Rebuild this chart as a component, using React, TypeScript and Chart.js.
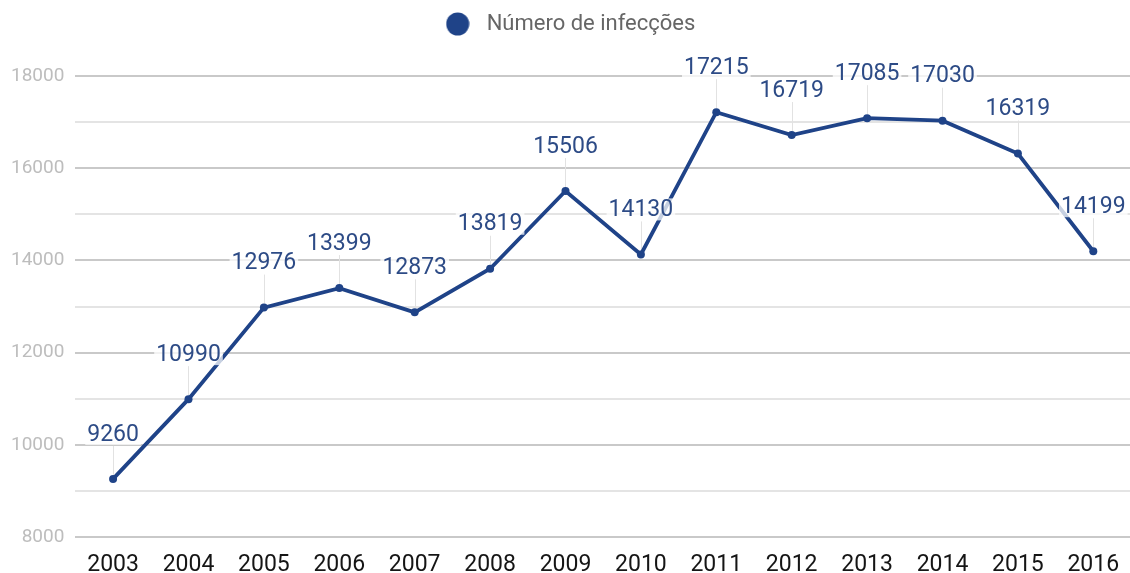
import React, { useEffect, useRef } from "react";
import { Chart, registerables } from "chart.js";

Chart.register(...registerables);

const years = ["2003", "2004", "2005", "2006", "2007", "2008", "2009", "2010", "2011", "2012", "2013", "2014", "2015", "2016"];
const infections = [9260, 10990, 12976, 13399, 12873, 13819, 15506, 14130, 17215, 16719, 17085, 17030, 16319, 14199];
const seriesLabel = "Número de infecções";
const yMin = 8000;
const yMax = 18000;
const yStep = 1000;

const NAVY = "#1f4388";
const LABEL_COLOR = "#2d4b86";

const legendGapPlugin = {
  id: "legendGap",
  beforeInit(chart: any) {
    const legend = chart.legend;
    if (!legend) return;
    const origFit = legend.fit;
    legend.fit = function () {
      origFit.call(this);
      this.height += 31;
    };
  },
};

const labelPlugin = {
  id: "valueLabels",
  beforeDatasetsDraw(chart: any) {
    const ctx = chart.ctx;
    const meta = chart.getDatasetMeta(0);
    ctx.save();
    ctx.strokeStyle = "#e2e2e2";
    ctx.lineWidth = 1;
    meta.data.forEach((pt: any) => {
      const x = Math.round(pt.x) + 0.5;
      ctx.beginPath();
      ctx.moveTo(x, pt.y - 4);
      ctx.lineTo(x, pt.y - 33);
      ctx.stroke();
    });
    ctx.restore();
  },
  afterDatasetsDraw(chart: any) {
    const ctx = chart.ctx;
    const meta = chart.getDatasetMeta(0);
    const data = chart.data.datasets[0].data;
    ctx.save();
    ctx.font = "400 23px Roboto";
    ctx.textAlign = "center";
    ctx.textBaseline = "middle";
    meta.data.forEach((pt: any, i: number) => {
      const text = String(data[i]);
      const w = ctx.measureText(text).width;
      const ty = pt.y - 45;
      ctx.fillStyle = "rgba(255,255,255,0.75)";
      ctx.fillRect(pt.x - w / 2 - 2, ty - 11, w + 4, 22);
      ctx.fillStyle = LABEL_COLOR;
      ctx.fillText(text, pt.x, ty + 1);
    });
    ctx.restore();
  },
};

function makeLegendDot(): HTMLCanvasElement {
  const c = document.createElement("canvas");
  c.width = 24;
  c.height = 24;
  const g = c.getContext("2d") as CanvasRenderingContext2D;
  g.fillStyle = NAVY;
  g.beginPath();
  g.arc(12, 12, 11.5, 0, Math.PI * 2);
  g.fill();
  return c;
}

export default function App() {
  const ref = useRef<HTMLCanvasElement>(null);
  useEffect(() => {
    document.body.style.margin = "0";
    const dot = makeLegendDot();
    const chart = new Chart(ref.current as HTMLCanvasElement, {
      type: "line",
      data: {
        labels: years,
        datasets: [
          {
            label: seriesLabel,
            data: infections,
            borderColor: NAVY,
            backgroundColor: NAVY,
            borderWidth: 3.8,
            pointRadius: 4,
            pointBackgroundColor: NAVY,
            pointBorderWidth: 0,
            tension: 0,
          },
        ],
      },
      options: {
        animation: false,
        responsive: false,
        layout: { padding: 0 },
        plugins: {
          legend: {
            display: true,
            position: "top",
            labels: {
              usePointStyle: true,
              pointStyle: dot as any,
              pointStyleWidth: 36,
              boxHeight: 22,
              padding: 13,
              color: "#666666",
              font: { family: "Roboto", size: 22 },
            },
          },
          tooltip: { enabled: false },
        },
        scales: {
          x: {
            offset: true,
            grid: { display: false, drawTicks: false },
            border: { display: false },
            ticks: {
              color: "#151515",
              font: { family: "Roboto", size: 23 },
              padding: 14,
              maxRotation: 0,
            },
            afterFit: (scale: any) => {
              scale.height = 36;
            },
          },
          y: {
            min: yMin,
            max: yMax,
            border: { display: false },
            grid: {
              drawTicks: false,
              lineWidth: 2,
              color: (c: any) => (c.tick && c.tick.value % 2000 === 0 ? "#c9c9c9" : "#e4e4e4"),
            },
            ticks: {
              stepSize: yStep,
              color: "#bdbdbd",
              font: { family: "Roboto", size: 19 },
              padding: 11,
              callback: (v: any) => (Number(v) % 2000 === 0 ? String(v) : ""),
            },
          },
        },
      },
      plugins: [legendGapPlugin, labelPlugin],
    });
    return () => chart.destroy();
  }, []);
  return (
    <div style={{ position: "absolute", left: 0, top: 0, width: 1130, height: 573, overflow: "hidden" }}>
      <canvas ref={ref} width={1135} height={573} />
    </div>
  );
}
